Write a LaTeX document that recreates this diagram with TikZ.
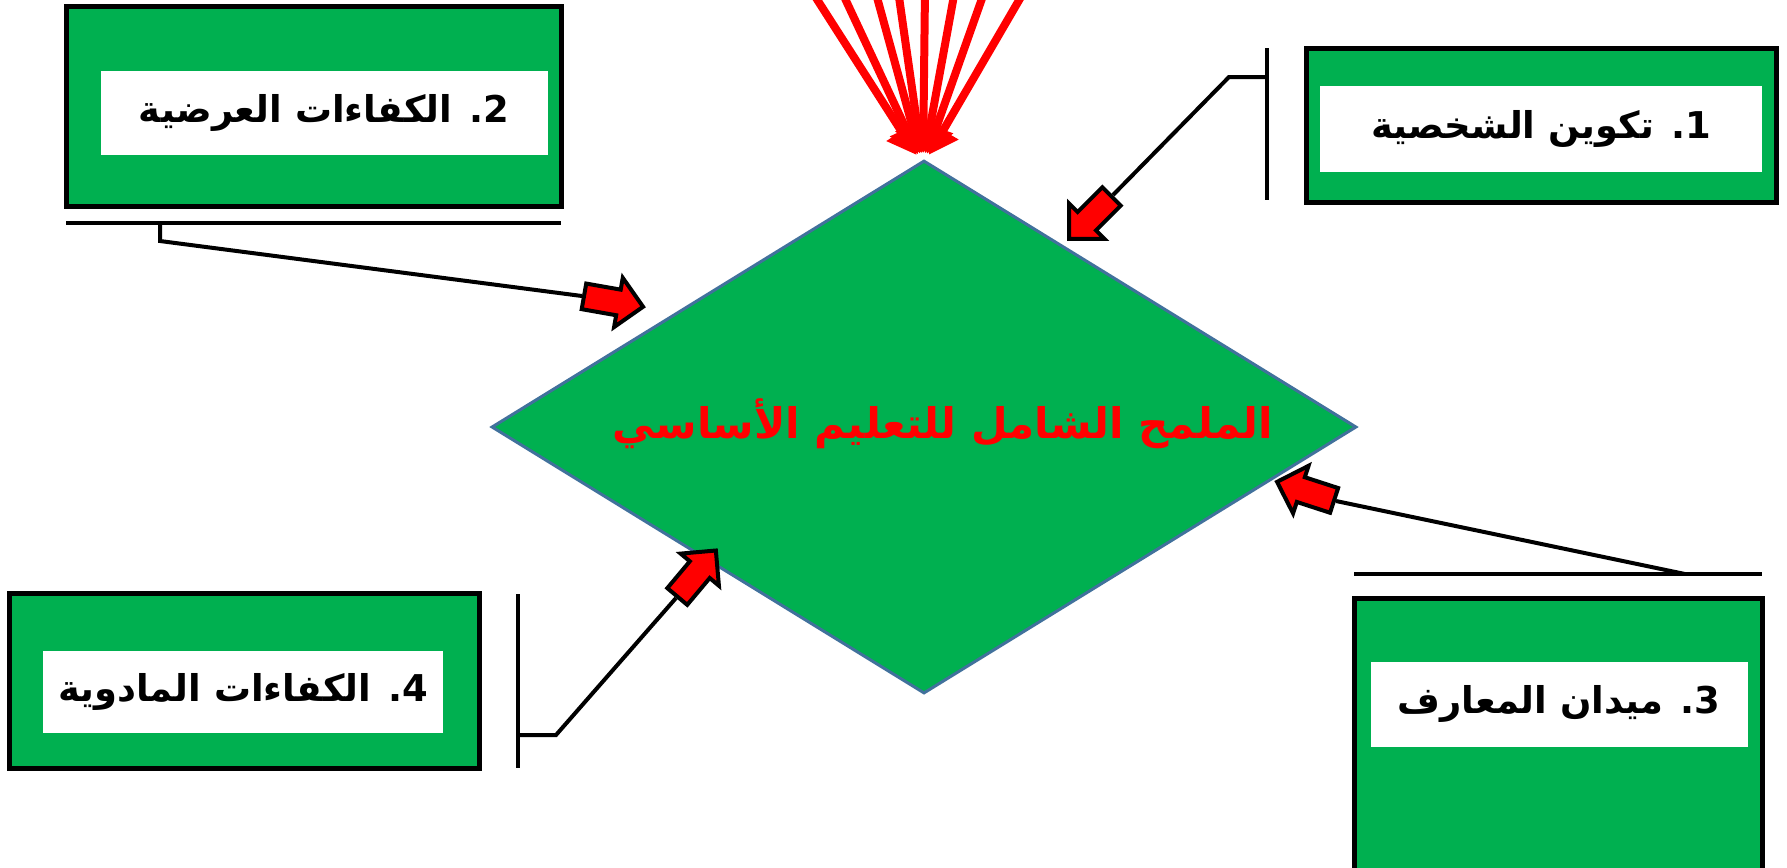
\documentclass[tikz,border=0pt]{standalone}
\usepackage{fontspec}
\newfontfamily\arabicfont[Script=Arabic]{DejaVu Sans}
\TeXXeTstate=1
\usetikzlibrary{shapes.geometric,shapes.arrows,arrows.meta,calc}
\definecolor{boxgreen}{HTML}{00B050}
\definecolor{rimblue}{HTML}{41719C}

\begin{document}
\begin{tikzpicture}[x=0.1mm, y=-0.1mm,
    greenbox/.style={draw=black, line width=0.5mm, fill=boxgreen, rectangle, inner sep=0pt},
    txtbox/.style={fill=white, rectangle, inner sep=0pt, font=\arabicfont\bfseries\fontsize{10.5}{12}\selectfont},
    wire/.style={draw=black, line width=0.4mm},
    blockarrow/.style={single arrow, draw=black, line width=0.4mm, fill=red, inner sep=0pt,
        text height=1.1mm, text depth=1.1mm, minimum height=6mm, minimum width=0pt,
        single arrow head extend=1.2mm, anchor=tail},
    ray/.style={draw=red, line width=0.8mm, -{Triangle[width=3.4mm,length=2.8mm]}}]

    % page
    \useasboundingbox (0,0) rectangle (1787,867);
    \fill[white] (0,0) rectangle (1787,867);

    % Centre diamond
    \node[diamond, draw=rimblue, line width=0.3mm, fill=boxgreen, inner sep=0pt,
          minimum width=86.5mm, minimum height=53.3mm] (core) at (924,427) {};
    \node[text=red, font=\arabicfont\bfseries\fontsize{12}{14}\selectfont] (title) at (943,424)
        {\beginR الملمح الشامل للتعليم الأساسي\endR};

    % Rays from the top
    \coordinate (peak) at (923,165);
    \foreach \x [count=\i] in {811,841,875,898,925,955,985,1025} {
        \coordinate (r\i) at (\x,-10);
        \draw[ray] (r\i) -- ($(peak)!1.2mm!(r\i)$);
    }

    % Box 1
    \node[greenbox, minimum width=47mm, minimum height=15.4mm] (box1) at (1541,125) {};
    \node[txtbox, minimum width=44.2mm, minimum height=8.6mm] (lab1) at (1541,129)
        {\beginR 1. تكوين الشخصية\endR};
    \draw[wire] (1267,48) -- (1267,200);
    \coordinate (k1) at (1267,77);
    \node[blockarrow, rotate=225] (a1) at (1113,195) {};
    \draw[wire] (k1) -- (1229,77) -- (a1.tail);

    % Box 2
    \node[greenbox, minimum width=49.5mm, minimum height=20mm] (box2) at (314,106) {};
    \node[txtbox, minimum width=44.7mm, minimum height=8.4mm] (lab2) at (324,113)
        {\beginR 2. الكفاءات العرضية\endR};
    \draw[wire] (66,223) -- (561,223);
    \coordinate (k2) at (160,223);
    \node[blockarrow, rotate=-10] (a2) at (582,296) {};
    \draw[wire] (k2) -- (160,241) -- (a2.tail);

    % Box 3
    \node[greenbox, minimum width=40.8mm, minimum height=27.7mm] (box3) at (1558,737) {};
    \node[txtbox, minimum width=37.7mm, minimum height=8.5mm] (lab3) at (1559,704)
        {\beginR 3. ميدان المعارف\endR};
    \draw[wire] (1354,574) -- (1762,574);
    \coordinate (k3) at (1685,574);
    \node[blockarrow, rotate=162] (a3) at (1336,501) {};
    \draw[wire] (k3) -- (a3.tail);

    % Box 4
    \node[greenbox, minimum width=47mm, minimum height=17.5mm] (box4) at (244,681) {};
    \node[txtbox, minimum width=40mm, minimum height=8.2mm] (lab4) at (243,692)
        {\beginR 4. الكفاءات المادوية\endR};
    \draw[wire] (518,594) -- (518,768);
    \coordinate (k4) at (518,735);
    \node[blockarrow, rotate=50] (a4) at (676,598) {};
    \draw[wire] (k4) -- (556,735) -- (a4.tail);

\end{tikzpicture}
\end{document}
